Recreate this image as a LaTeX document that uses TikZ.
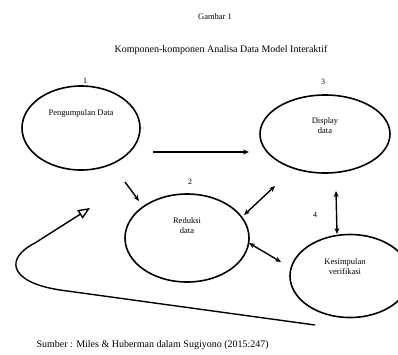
\documentclass[tikz,border=0pt]{standalone}
\usepackage{fontspec}
\setmainfont{Liberation Serif}
\usetikzlibrary{shapes.geometric,arrows.meta}
\begin{document}
\begin{tikzpicture}[x=1pt,y=-1pt,
  oval/.style={draw,line width=1.6pt,ellipse,inner sep=0pt},
  lbl/.style={font=\fontsize{8.5}{10}\selectfont,align=center,inner sep=0pt},
  num/.style={font=\fontsize{8}{9}\selectfont,inner sep=0pt},
  conn/.style={line width=1.4pt,-{Stealth[length=6pt,width=5pt]}},
  dconn/.style={line width=1.4pt,{Stealth[length=6pt,width=5pt]}-{Stealth[length=6pt,width=5pt]}}]
\useasboundingbox (0,0) rectangle (398,354);
\fill[white] (0,0) rectangle (398,354);
% titles
\node[font=\fontsize{8.5}{10}\selectfont] (t1) at (215,17) {Gambar 1};
\node[font=\fontsize{10}{12}\selectfont] (t2) at (221,50) {Komponen-komponen Analisa Data Model Interaktif};
\node[font=\fontsize{10}{12}\selectfont,anchor=west] (src) at (33,345) {Sumber : Miles \& Huberman dalam Sugiyono (2015:247)};
% ellipses
\node[oval,minimum width=118pt,minimum height=84pt] (e1) at (81,128) {};
\node[oval,minimum width=130pt,minimum height=78pt] (e3) at (325,134) {};
\node[oval,minimum width=124pt,minimum height=88pt] (e2) at (187,238) {};
\node[oval,minimum width=120pt,minimum height=83pt] (e4) at (350,276) {};
% labels in ellipses
\node[lbl] (l1) at (81,113) {Pengumpulan Data};
\node[lbl] (l3) at (325,126) {Display\\data};
\node[lbl] (l2) at (187,226) {Reduksi\\data};
\node[lbl] (l4) at (345,267) {Kesimpulan\\verifikasi};
% numbers
\node[num] (n1) at (85,81) {1};
\node[num] (n3) at (323,82) {3};
\node[num] (n2) at (190,182) {2};
\node[num] (n4) at (315,215) {4};
% connectors
\coordinate (a1s) at (153,152);
\coordinate (a1e) at (249,152);
\draw[conn] (a1s) -- (a1e);
\coordinate (a2s) at (125,182);
\coordinate (a2e) at (139,201);
\draw[conn] (a2s) -- (a2e);
\coordinate (d1a) at (244,215);
\coordinate (d1b) at (275,186);
\draw[dconn] (d1a) -- (d1b);
\coordinate (d2a) at (249,243);
\coordinate (d2b) at (281,262);
\draw[dconn] (d2a) -- (d2b);
\coordinate (d3a) at (336,191);
\coordinate (d3b) at (337,234);
\draw[dconn] (d3a) -- (d3b);
% feedback loop
\coordinate (fs) at (315,325);
\coordinate (fe) at (90,208);
\draw[line width=1.4pt,-{Triangle[open,length=12pt,width=10pt]}]
  (fs) -- (60,290) .. controls (8,282) and (5,258) .. (35,243) -- (fe);
\end{tikzpicture}
\end{document}
